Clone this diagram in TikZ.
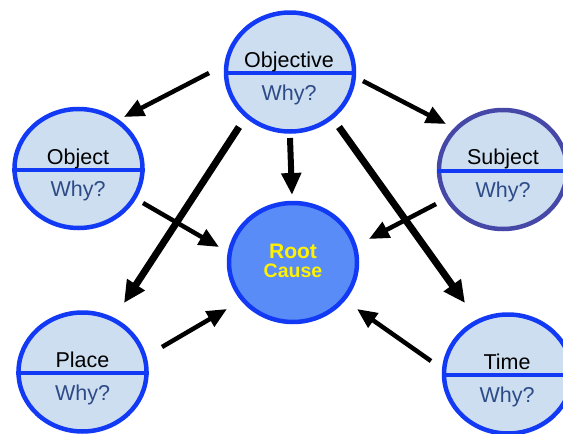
\documentclass[tikz,border=0pt]{standalone}
\usepackage{fontspec}
\setmainfont{Liberation Sans}
\usetikzlibrary{arrows.meta,shapes.geometric}
\definecolor{cfill}{RGB}{205,222,240}
\definecolor{cborder}{RGB}{18,58,245}
\definecolor{sborder}{RGB}{70,72,168}
\definecolor{rootfill}{RGB}{90,140,248}
\definecolor{whyc}{RGB}{45,75,135}
\tikzset{
  bubble/.style={ellipse, draw=cborder, fill=cfill, line width=4.5pt,
    minimum width=128pt, minimum height=119pt, inner sep=0pt},
  divider/.style={draw=cborder, line width=4pt},
  thinarrow/.style={line width=4.5pt, -{Triangle[length=20pt,width=17pt]}},
  thickarrow/.style={line width=7pt, -{Triangle[length=22pt,width=20pt]}},
  lbl/.style={font=\fontsize{21.5}{24}\selectfont, anchor=base, text=black, inner sep=0pt},
  why/.style={lbl, text=whyc},
  rootlbl/.style={font=\bfseries\fontsize{21}{24}\selectfont, anchor=base, text=yellow, inner sep=0pt},
}
\begin{document}
\begin{tikzpicture}[x=1pt,y=-1pt]
\useasboundingbox (0,0) rectangle (563,434);
% bubbles
\node[bubble] (objective) at (290,72) {};
\node[bubble] (object) at (78.5,168.5) {};
\node[bubble, draw=sborder] (subject) at (503,169.5) {};
\node[bubble, fill=rootfill] (root) at (293,262.5) {};
\node[bubble] (place) at (82.5,372) {};
\node[bubble] (time) at (508,374) {};
% dividers
\foreach \n in {objective,object,subject,place,time}
  \draw[divider] ([yshift=-1pt]\n.west) -- ([yshift=-1pt]\n.east);
% labels
\node[lbl] (tobjective) at (289,67) {Objective};
\node[why] (wobjective) at (289,100) {Why?};
\node[lbl] (tobject) at (78,164) {Object};
\node[why] (wobject) at (78,196.5) {Why?};
\node[lbl] (tsubject) at (503,164.5) {Subject};
\node[why] (wsubject) at (503,197.5) {Why?};
\node[lbl] (tplace) at (82.5,367) {Place};
\node[why] (wplace) at (82.5,400) {Why?};
\node[lbl] (ttime) at (507,369) {Time};
\node[why] (wtime) at (507,402) {Why?};
\node[rootlbl] (troot) at (293,258) {Root};
\node[rootlbl, font=\bfseries\fontsize{19.5}{24}\selectfont] (tcause) at (293,277) {Cause};
% arrow end points
\coordinate (a1s) at (209,73);  \coordinate (a1e) at (124,117);
\coordinate (a2s) at (363,81);  \coordinate (a2e) at (446,124);
\coordinate (a3s) at (290,138); \coordinate (a3e) at (292,195);
\coordinate (a4s) at (239,127); \coordinate (a4e) at (124,303);
\coordinate (a5s) at (339,127); \coordinate (a5e) at (465,303);
\coordinate (a6s) at (143,203); \coordinate (a6e) at (219,247);
\coordinate (a7s) at (436,204); \coordinate (a7e) at (369,239);
\coordinate (a8s) at (162,347); \coordinate (a8e) at (227,309);
\coordinate (a9s) at (431,361); \coordinate (a9e) at (357,309);
% arrows
\draw[thinarrow] (a1s) -- (a1e);
\draw[thinarrow] (a2s) -- (a2e);
\draw[line width=6pt, -{Triangle[length=22pt,width=19pt]}] (a3s) -- (a3e);
\draw[thickarrow] (a4s) -- (a4e);
\draw[thickarrow] (a5s) -- (a5e);
\draw[thinarrow] (a6s) -- (a6e);
\draw[thinarrow] (a7s) -- (a7e);
\draw[thinarrow] (a8s) -- (a8e);
\draw[thinarrow] (a9s) -- (a9e);
\end{tikzpicture}
\end{document}
